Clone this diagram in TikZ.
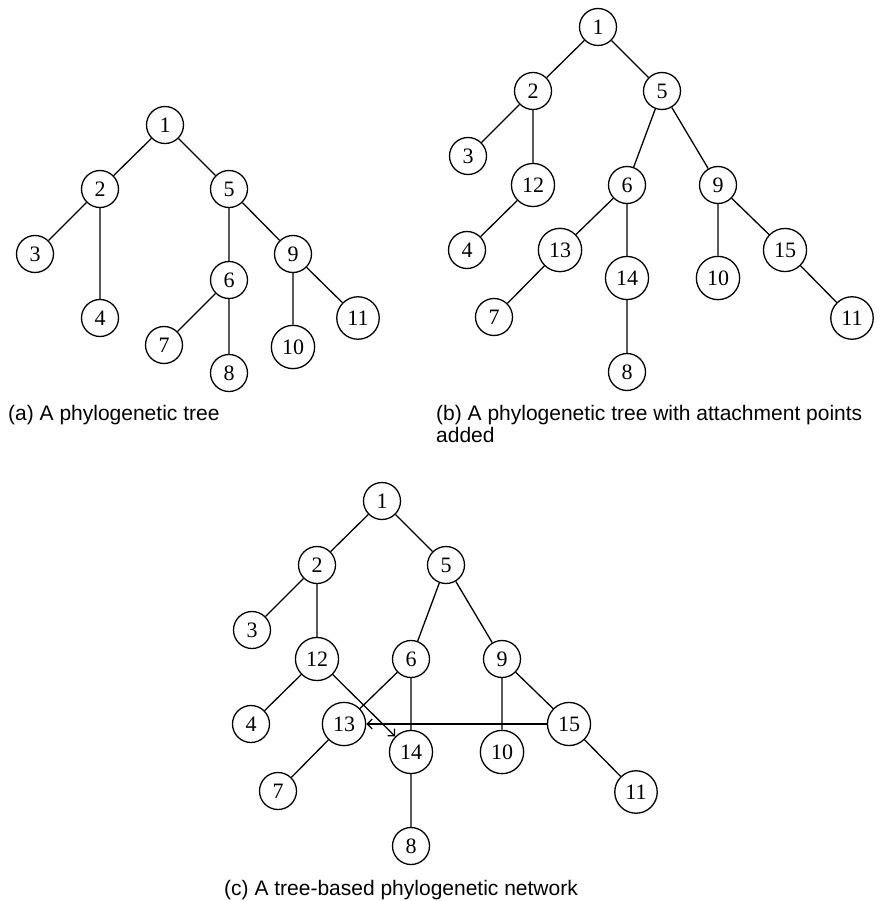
\documentclass[tikz,border=0pt]{standalone}
\usepackage{fontspec}
\setmainfont{Liberation Serif}
\newfontfamily\capfont{Liberation Sans}
\usetikzlibrary{arrows.meta}

\tikzset{
  vertex/.style={circle, draw, line width=1.3pt, minimum size=37pt, inner sep=6pt,
                 font=\fontsize{22}{24}\selectfont},
  branch/.style={line width=1.3pt},
  reticulation/.style={line width=1.3pt, -{Straight Barb[length=5pt,width=10pt]}},
  caption/.style={font=\capfont\fontsize{21}{22}\selectfont, inner sep=0pt,
                  anchor=base west, align=left}
}

% phylogenetic tree with attachment points 12--15
\newcommand\attachedtree{%
  \node[vertex] (1)  at (598,27)  {1};
  \node[vertex] (2)  at (533,91)  {2};
  \node[vertex] (5)  at (662,91)  {5};
  \node[vertex] (3)  at (468,156) {3};
  \node[vertex] (12) at (533,185) {12};
  \node[vertex] (6)  at (627,185) {6};
  \node[vertex] (9)  at (718,185) {9};
  \node[vertex] (4)  at (467,250) {4};
  \node[vertex] (13) at (560,250) {13};
  \node[vertex] (15) at (785,250) {15};
  \node[vertex] (14) at (627,278) {14};
  \node[vertex] (10) at (718,278) {10};
  \node[vertex] (7)  at (494,317) {7};
  \node[vertex] (11) at (852,318) {11};
  \node[vertex] (8)  at (627,372) {8};
  \draw[branch] (1) -- (2) (1) -- (5) (2) -- (3) (2) -- (12) (12) -- (4)
    (5) -- (6) (5) -- (9) (6) -- (13) (6) -- (14) (13) -- (7) (14) -- (8)
    (9) -- (10) (9) -- (15) (15) -- (11);
}

\begin{document}
\begin{tikzpicture}[x=1pt,y=-1pt]
\useasboundingbox (0,0) rectangle (882,901);

% (a) phylogenetic tree
\begin{scope}[name prefix=a-]
  \node[vertex] (1)  at (165,125) {1};
  \node[vertex] (2)  at (100,189) {2};
  \node[vertex] (5)  at (229,189) {5};
  \node[vertex] (3)  at (35,254)  {3};
  \node[vertex] (4)  at (100,318) {4};
  \node[vertex] (6)  at (229,280) {6};
  \node[vertex] (9)  at (293,254) {9};
  \node[vertex] (7)  at (164,345) {7};
  \node[vertex] (8)  at (229,373) {8};
  \node[vertex] (10) at (293,347) {10};
  \node[vertex] (11) at (358,318) {11};
  \draw[branch] (1) -- (2) (1) -- (5) (2) -- (3) (2) -- (4)
    (5) -- (6) (5) -- (9) (6) -- (7) (6) -- (8) (9) -- (10) (9) -- (11);
\end{scope}
\node[caption] (capa) at (8,420) {(a) A phylogenetic tree};

% (b) tree with attachment points
\begin{scope}[name prefix=b-]
  \attachedtree
\end{scope}
% base anchor of a two-line node sits on its last line
\node[caption] (capb) at (436,442) {(b) A phylogenetic tree with attachment points\\added};

% (c) tree-based network: same tree plus two reticulation arcs
\begin{scope}[shift={(-216,474)}, name prefix=c-]
  \attachedtree
  \draw[reticulation] (12) -- (14);
  \draw[reticulation] (15) -- (13);
\end{scope}
\node[caption] (capc) at (224,895) {(c) A tree-based phylogenetic network};
\end{tikzpicture}
\end{document}
